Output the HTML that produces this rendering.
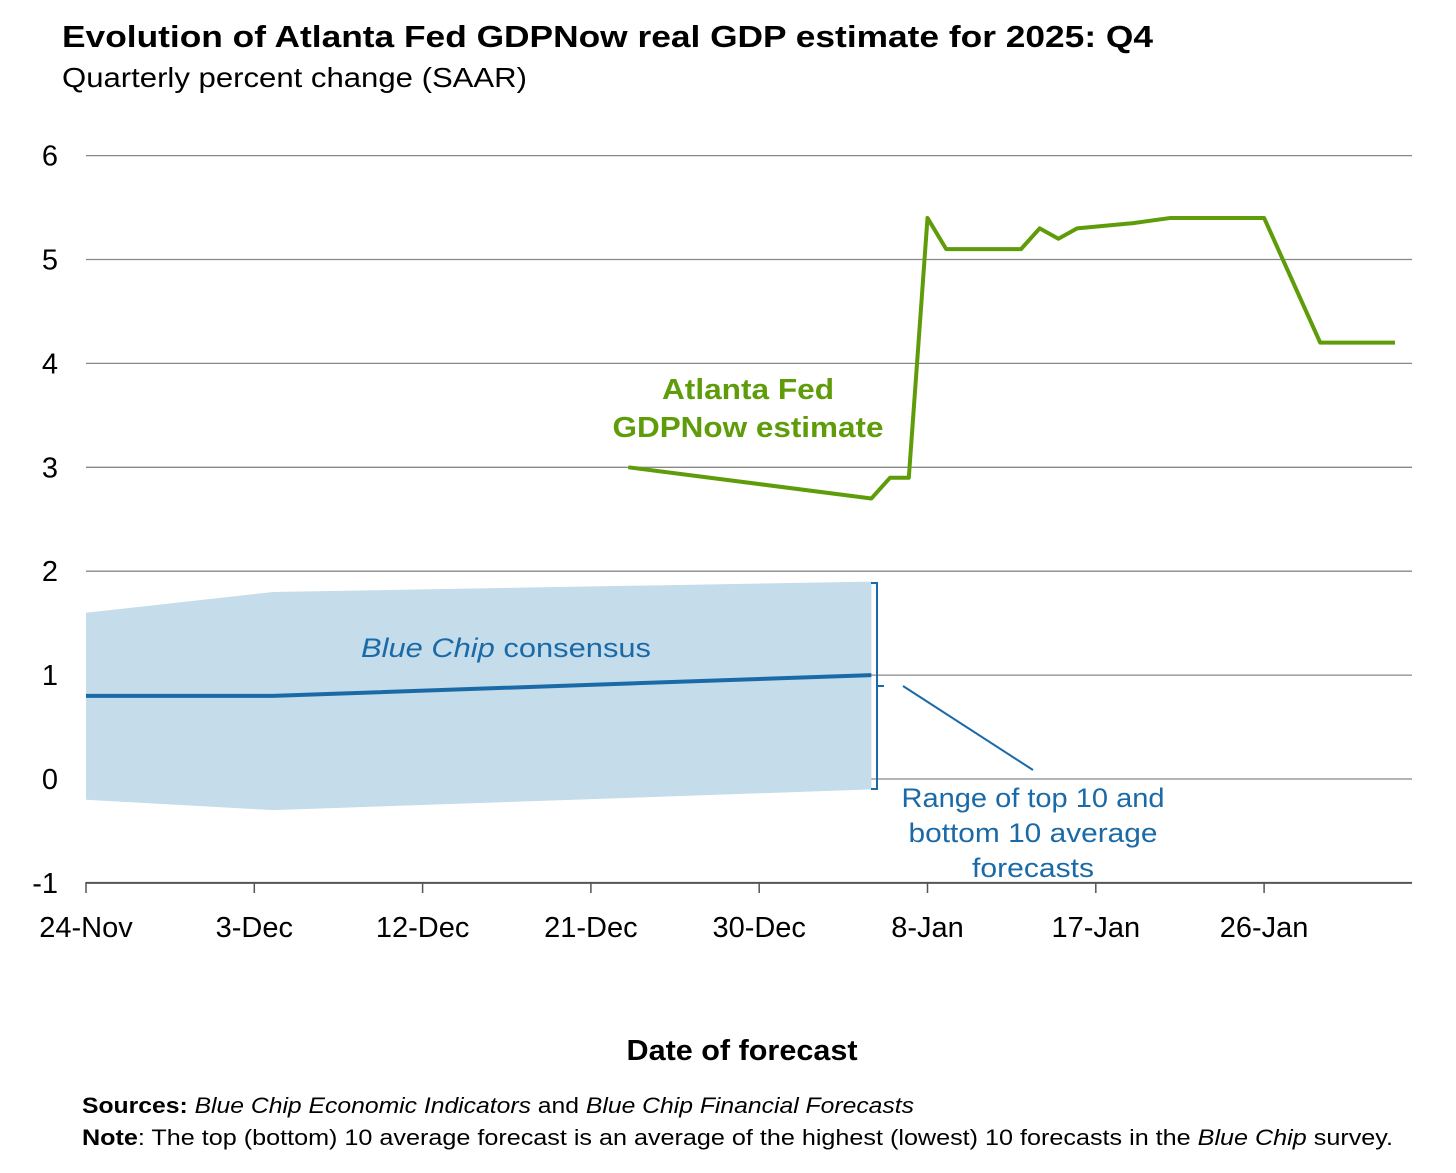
<!DOCTYPE html>
<html><head><meta charset="utf-8"><style>
body{margin:0;background:#fff;font-family:"Liberation Sans",sans-serif;}
svg text{font-family:"Liberation Sans",sans-serif;}
</style></head><body>
<svg width="1456" height="1168" viewBox="0 0 1456 1168">
<text x="62" y="47" font-size="31" font-weight="bold" fill="#000" textLength="1091" lengthAdjust="spacingAndGlyphs">Evolution of Atlanta Fed GDPNow real GDP estimate for 2025: Q4</text>
<text x="62" y="87" font-size="28" fill="#000" textLength="465" lengthAdjust="spacingAndGlyphs">Quarterly percent change (SAAR)</text>
<g id="grid"></g><g id="band"></g><g id="lines"></g><g id="axes"></g>
<text x="361" y="657" font-size="27" fill="#1a6aa8" textLength="290" lengthAdjust="spacingAndGlyphs"><tspan font-style="italic">Blue Chip</tspan> consensus</text>
<text x="748" y="399" font-size="29" font-weight="bold" fill="#5f9c0a" text-anchor="middle" textLength="172" lengthAdjust="spacingAndGlyphs">Atlanta Fed</text>
<text x="748" y="437" font-size="29" font-weight="bold" fill="#5f9c0a" text-anchor="middle" textLength="271" lengthAdjust="spacingAndGlyphs">GDPNow estimate</text>
<path d="M871 583 h6 v206 h-6 M877 686 h7" stroke="#1a6aa8" stroke-width="2" fill="none"/>
<line x1="903" y1="686" x2="1033" y2="770" stroke="#1a6aa8" stroke-width="2"/>
<g font-size="27" fill="#1a6aa8" text-anchor="middle">
<text x="1033" y="807" textLength="263" lengthAdjust="spacingAndGlyphs">Range of top 10 and</text><text x="1033" y="842" textLength="249" lengthAdjust="spacingAndGlyphs">bottom 10 average</text><text x="1033" y="877" textLength="122" lengthAdjust="spacingAndGlyphs">forecasts</text></g>
<text x="742" y="1060" font-size="29" font-weight="bold" text-anchor="middle" textLength="231" lengthAdjust="spacingAndGlyphs">Date of forecast</text>
<text x="82" y="1113" font-size="22" textLength="832" lengthAdjust="spacingAndGlyphs"><tspan font-weight="bold">Sources:</tspan> <tspan font-style="italic">Blue Chip Economic Indicators</tspan> and <tspan font-style="italic">Blue Chip Financial Forecasts</tspan></text>
<text x="82" y="1145" font-size="22" textLength="1311" lengthAdjust="spacingAndGlyphs"><tspan font-weight="bold">Note</tspan>: The top (bottom) 10 average forecast is an average of the highest (lowest) 10 forecasts in the <tspan font-style="italic">Blue Chip</tspan> survey.</text>
</svg>
<script>
const yTicks=[6,5,4,3,2,1,0,-1];
const xTickDays=[0,9,18,27,36,45,54,63];
const xTickLabels=["24-Nov","3-Dec","12-Dec","21-Dec","30-Dec","8-Jan","17-Jan","26-Jan"];
const gdpDays=[29,42,43,44,45,46,50,51,52,53,56,58,63,66,70];
const gdpValues=[3.0,2.7,2.9,2.9,5.4,5.1,5.1,5.3,5.2,5.3,5.35,5.4,5.4,4.2,4.2];
const bcDays=[0,10,42];
const bcValues=[0.8,0.8,1.0];
const bcHigh=[1.6,1.8,1.9];
const bcLow=[-0.2,-0.3,-0.1];
const NS="http://www.w3.org/2000/svg";
const X=d=>86+d*18.7, Y=v=>779-v*103.9;
function mk(t,a,p){const e=document.createElementNS(NS,t);for(const k in a)e.setAttribute(k,a[k]);document.getElementById(p).appendChild(e);return e;}
yTicks.forEach(v=>{
 const l=mk('line',{x1:86,x2:1412,y1:Y(v),y2:Y(v),stroke:v==-1?'#555':'#888','stroke-width':v==-1?2:1.3},'grid');
 
 
 const t=mk('text',{x:58,y:Y(v)+10,'font-size':29,'text-anchor':'end'},'axes');t.textContent=v;
 
 
});
xTickDays.forEach((d,i)=>{
 const l=mk('line',{x1:X(d),x2:X(d),y1:882,y2:893,stroke:'#555','stroke-width':1.5},'axes');
 
 
 const t=mk('text',{x:X(d),y:937,'font-size':29,'text-anchor':'middle'},'axes');t.textContent=xTickLabels[i];
 
 
});
let pts=bcDays.map((d,i)=>X(d)+','+Y(bcHigh[i])).concat(bcDays.map((d,i)=>X(d)+','+Y(bcLow[i])).reverse());
const band=mk('polygon',{points:pts.join(' '),fill:'#c5dcea'},'band');


const bc=mk('polyline',{points:bcDays.map((d,i)=>X(d)+','+Y(bcValues[i])).join(' '),fill:'none',stroke:'#1a6aa8','stroke-width':4},'lines');


const g=mk('polyline',{points:gdpDays.map((d,i)=>X(d)+','+Y(gdpValues[i])).join(' '),fill:'none',stroke:'#5f9c0a','stroke-width':4,'stroke-linejoin':'round'},'lines');


</script>
</body></html>
